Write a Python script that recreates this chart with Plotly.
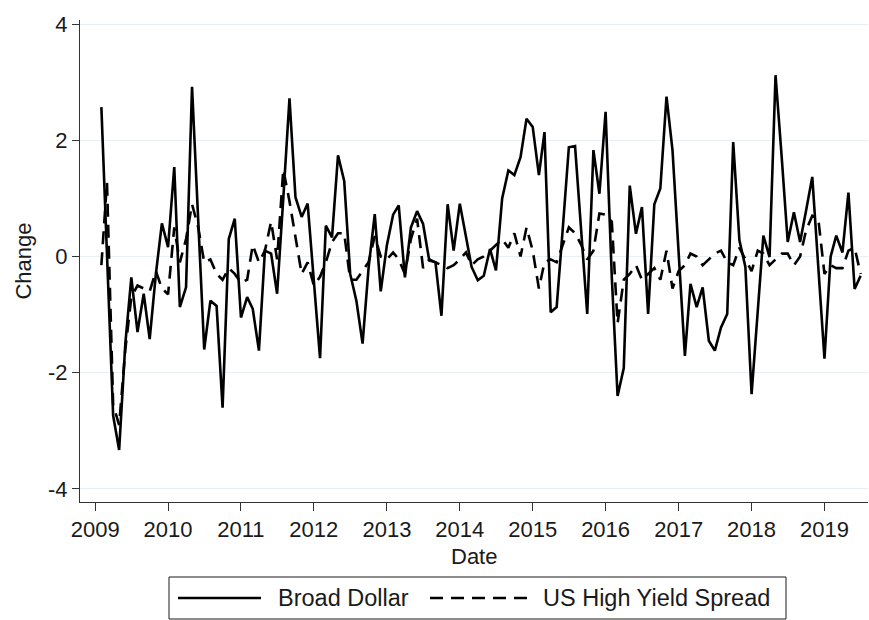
import pandas as pd
import plotly.graph_objects as go

# Monthly changes, Feb 2009 - Jul 2019
months = pd.date_range("2009-02-01", periods=126, freq="MS")

broad_dollar = [
    2.57, -0.05, -2.74, -3.33, -1.5, -0.36, -1.3, -0.64, -1.42, -0.3,
    0.57, 0.16, 1.54, -0.87, -0.53, 2.92, 0.67, -1.6, -0.76, -0.85,
    -2.6, 0.3, 0.65, -1.05, -0.7, -0.9, -1.62, 0.1, 0.05, -0.64,
    1.0, 2.72, 1.02, 0.68, 0.91, -0.4, -1.75, 0.53, 0.33, 1.74,
    1.3, -0.3, -0.76, -1.5, -0.2, 0.73, -0.6, 0.2, 0.72, 0.88,
    -0.36, 0.5, 0.78, 0.56, -0.07, -0.1, -1.02, 0.9, 0.1, 0.91,
    0.3, -0.18, -0.41, -0.33, 0.13, -0.24, 1.0, 1.48, 1.4, 1.71,
    2.37, 2.23, 1.4, 2.14, -0.96, -0.87, 0.5, 1.88, 1.9, 0.5,
    -0.99, 1.83, 1.08, 2.49, -0.35, -2.4, -1.92, 1.22, 0.39, 0.85,
    -0.99, 0.9, 1.17, 2.75, 1.83, 0.05, -1.71, -0.47, -0.87, -0.53,
    -1.45, -1.62, -1.22, -0.99, 1.97, 0.28, -0.18, -2.37, -1.0, 0.36,
    -0.01, 3.12, 1.7, 0.25, 0.76, 0.25, 0.79, 1.37, -0.18, -1.76,
    0.0, 0.36, 0.07, 1.1, -0.56, -0.33,
]

hy_spread = [
    -0.15, 1.28, -2.55, -2.9, -1.6, -0.7, -0.5, -0.55, -0.6, -0.25,
    -0.55, -0.65, 0.5, -0.1, 0.3, 0.9, 0.5, -0.1, -0.05, -0.3,
    -0.4, -0.2, -0.3, -0.45, -0.4, 0.2, -0.1, 0.1, 0.6, -0.05,
    1.5, 0.95, 0.3, -0.3, -0.1, -0.5, -0.35, -0.1, 0.25, 0.4,
    0.4, -0.4, -0.4, -0.25, -0.1, 0.35, 0.0, -0.05, 0.07, -0.05,
    -0.3, 0.3, 0.65, -0.2, -0.05, -0.1, -0.15, -0.2, -0.15, -0.05,
    0.07, -0.15, -0.05, 0.0, 0.1, 0.2, 0.3, 0.15, 0.4, 0.0,
    0.5, 0.1, -0.55, -0.1, -0.05, -0.1, 0.2, 0.5, 0.4, 0.2,
    -0.05, 0.1, 0.74, 0.72, 0.6, -1.15, -0.4, -0.3, -0.15, -0.4,
    -0.3, -0.2, -0.4, 0.1, -0.55, -0.25, -0.15, 0.05, 0.0, -0.15,
    -0.05, 0.05, 0.1, -0.1, -0.15, 0.15, -0.05, -0.25, 0.1, 0.05,
    -0.15, -0.05, 0.05, 0.05, -0.15, 0.0, 0.45, 0.7, 0.65, -0.3,
    -0.15, -0.2, -0.2, 0.1, 0.15, -0.3,
]

year_ticks = list(range(2009, 2020))
y_ticks = [-4, -2, 0, 2, 4]
series_names = ["Broad Dollar", "US High Yield Spread"]

FONT = "Liberation Sans, Arial, sans-serif"
INK = "#1a1a1a"
DASH = "13px,8px"

W, H = 869, 620
L, R, T, B = 80, 1, 20, 118
PW, PH = W - L - R, H - T - B


def px_x(x):
    return (x - L) / PW


def px_y(y):
    return (H - B - y) / PH


fig = go.Figure()
fig.add_trace(go.Scatter(
    x=months, y=broad_dollar, mode="lines", name=series_names[0],
    line=dict(color="black", width=2.6), showlegend=False,
))
fig.add_trace(go.Scatter(
    x=months, y=hy_spread, mode="lines", name=series_names[1],
    line=dict(color="black", width=2.6, dash=DASH), showlegend=False,
))

# legend drawn as a framed key below the axes
shapes = [
    dict(type="rect", xref="paper", yref="paper",
         x0=px_x(169), x1=px_x(786), y0=px_y(619), y1=px_y(577),
         line=dict(color=INK, width=1), fillcolor="white", layer="above"),
    dict(type="line", xref="paper", yref="paper",
         x0=px_x(178), x1=px_x(261), y0=px_y(598), y1=px_y(598),
         line=dict(color="black", width=2.6)),
    dict(type="line", xref="paper", yref="paper",
         x0=px_x(430), x1=px_x(533), y0=px_y(598), y1=px_y(598),
         line=dict(color="black", width=2.6, dash=DASH)),
]
annotations = [
    dict(text=series_names[0], xref="paper", yref="paper",
         x=px_x(276), y=px_y(598), xanchor="left", yanchor="middle",
         showarrow=False, font=dict(family=FONT, size=23.5, color=INK)),
    dict(text=series_names[1], xref="paper", yref="paper",
         x=px_x(541), y=px_y(598), xanchor="left", yanchor="middle",
         showarrow=False, font=dict(family=FONT, size=23.5, color=INK)),
    # x-axis title
    dict(text="Date", xref="paper", yref="paper",
         x=px_x(474), y=px_y(556), xanchor="center", yanchor="middle",
         showarrow=False, font=dict(family=FONT, size=22, color=INK)),
]

fig.update_layout(
    width=W, height=H,
    margin=dict(l=L, r=R, t=T, b=B, pad=0),
    paper_bgcolor="white", plot_bgcolor="white",
    font=dict(family=FONT, size=22, color=INK),
    showlegend=False,
    shapes=shapes,
    annotations=annotations,
    xaxis=dict(
        type="date",
        range=["2008-10-17", "2019-08-07"],
        tickmode="array",
        tickvals=[f"{y}-01-01" for y in year_ticks],
        ticktext=[str(y) for y in year_ticks],
        ticks="outside", ticklen=8, tickwidth=1, tickcolor="#333",
        showline=True, linecolor="#333", linewidth=1,
        showgrid=False, zeroline=False,
        tickfont=dict(size=22),
        automargin=False,
    ),
    yaxis=dict(
        range=[-4.225, 4.07],
        tickmode="array", tickvals=y_ticks,
        ticktext=[str(v) for v in y_ticks],
        ticks="outside", ticklen=7, tickwidth=1, tickcolor="#333",
        showline=True, linecolor="#333", linewidth=1,
        showgrid=True, gridcolor="#e8f0f3", gridwidth=1,
        zeroline=False,
        tickfont=dict(size=22),
        title=dict(text="Change", font=dict(size=22), standoff=10),
        automargin=False,
    ),
)

fig.write_html("out.html")
